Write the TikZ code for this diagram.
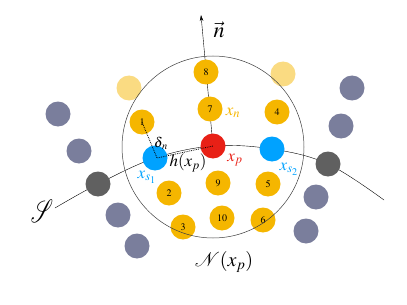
\documentclass[tikz,border=0pt]{standalone}
\usepackage[T1]{fontenc}
\usepackage{mathptmx}
\usepackage{mathrsfs}
\usetikzlibrary{arrows.meta,backgrounds}

\definecolor{ptorange}{RGB}{245,182,0}
\definecolor{ptlight}{RGB}{250,219,130}
\definecolor{ptred}{RGB}{232,32,22}
\definecolor{ptblue}{RGB}{0,162,255}
\definecolor{ptgray}{RGB}{96,96,96}
\definecolor{ptslate}{RGB}{122,126,156}

\tikzset{
	pt/.style={circle, minimum size=25pt, inner sep=0pt, font=\fontsize{10}{12}\selectfont},
	nbr/.style={pt, fill=ptorange},
	faded/.style={pt, fill=ptlight},
	far/.style={pt, fill=ptslate},
	surf/.style={pt, fill=ptgray},
	lbl/.style={inner sep=0pt, font=\fontsize{17}{19}\selectfont}
}

\begin{document}
\begin{tikzpicture}[x=1pt, y=-1pt, line width=0.6pt]
	\useasboundingbox (0,0) rectangle (407,305);

	% Points far from the surface.
	\node[far] (f1) at (58,114) {};
	\node[far] (f2) at (79,151) {};
	\node[far] (f3) at (118,215) {};
	\node[far] (f4) at (137,246) {};
	\node[far] (f5) at (352,88) {};
	\node[far] (f6) at (341,126) {};
	\node[far] (f7) at (316,197) {};
	\node[far] (f8) at (306,231) {};

	% Surface points outside the neighbourhood.
	\node[surf] (gL) at (98,184) {};
	\node[surf] (gR) at (328,164) {};

	% Neighbours of x_p.
	\node[faded] (l1) at (129,88) {};
	\node[faded] (l2) at (283,74) {};
	\node[nbr] (n8) at (206,72) {8};
	\node[nbr] (n7) at (210,109) {7};
	\node[nbr] (n4) at (277,112) {4};
	\node[nbr] (n1) at (142,122) {1};
	\node[nbr] (n9) at (218,183) {9};
	\node[nbr] (n5) at (268,184) {5};
	\node[nbr] (n2) at (169,193) {2};
	\node[nbr] (n10) at (222,218) {10};
	\node[nbr] (n6) at (263,220) {6};
	\node[nbr] (n3) at (183,227) {3};

	% The point and its projections.
	\node[pt, fill=ptblue] (sL) at (155,158) {};
	\node[pt, fill=ptblue] (sR) at (272,149) {};
	\node[pt, fill=ptred] (xp) at (213,146) {};

	% Surface and normal, under the points.
	\coordinate (sEndL) at (55,208);
	\coordinate (sEndR) at (384,200);
	\coordinate (ntip) at (201,15);
	\begin{scope}[on background layer]
		\draw plot[smooth, tension=0.6] coordinates {(sEndL) (gL.center) (sL.center) (xp.center) (sR.center) (gR.center) (sEndR)};
		\draw[-{Stealth[length=6pt,width=3.5pt]}] (xp.center) -- (ntip);
	\end{scope}

	% Distances.
	\coordinate (foot) at (157,158);
	\draw[densely dotted, line width=0.8pt] (n1.center) -- (foot) -- (xp.center);

	% Neighbourhood.
	\node[circle, draw=black!75, line width=0.5pt, minimum size=182pt, inner sep=0pt] (nbhd) at (213,147) {};

	% Labels.
	\node[lbl, font=\fontsize{22}{24}\selectfont] (ln) at (219,30) {$\vec{n}$};
	\node[lbl, font=\fontsize{28}{30}\selectfont] (lS) at (42,211) {\scalebox{0.85}[1.3]{$\mathscr{S}$}};
	\node[lbl, text=ptorange] (lxn) at (233,113) {$x_n$};
	\node[lbl, text=ptred] (lxp) at (235,160) {$x_p$};
	\node[lbl, text=ptblue] (ls1) at (147,177) {$x_{s_1}$};
	\node[lbl, text=ptblue] (ls2) at (289,169) {$x_{s_2}$};
	\node[lbl] (lh) at (188,163) {$h(x_p)$};
	\node[lbl, font=\fontsize{14}{16}\selectfont] (ld) at (161,143) {$\delta_{\,n}$};
	\node[lbl, font=\fontsize{20}{22}\selectfont] (lN) at (224,262) {$\mathcal{N}(x_p)$};
\end{tikzpicture}
\end{document}
